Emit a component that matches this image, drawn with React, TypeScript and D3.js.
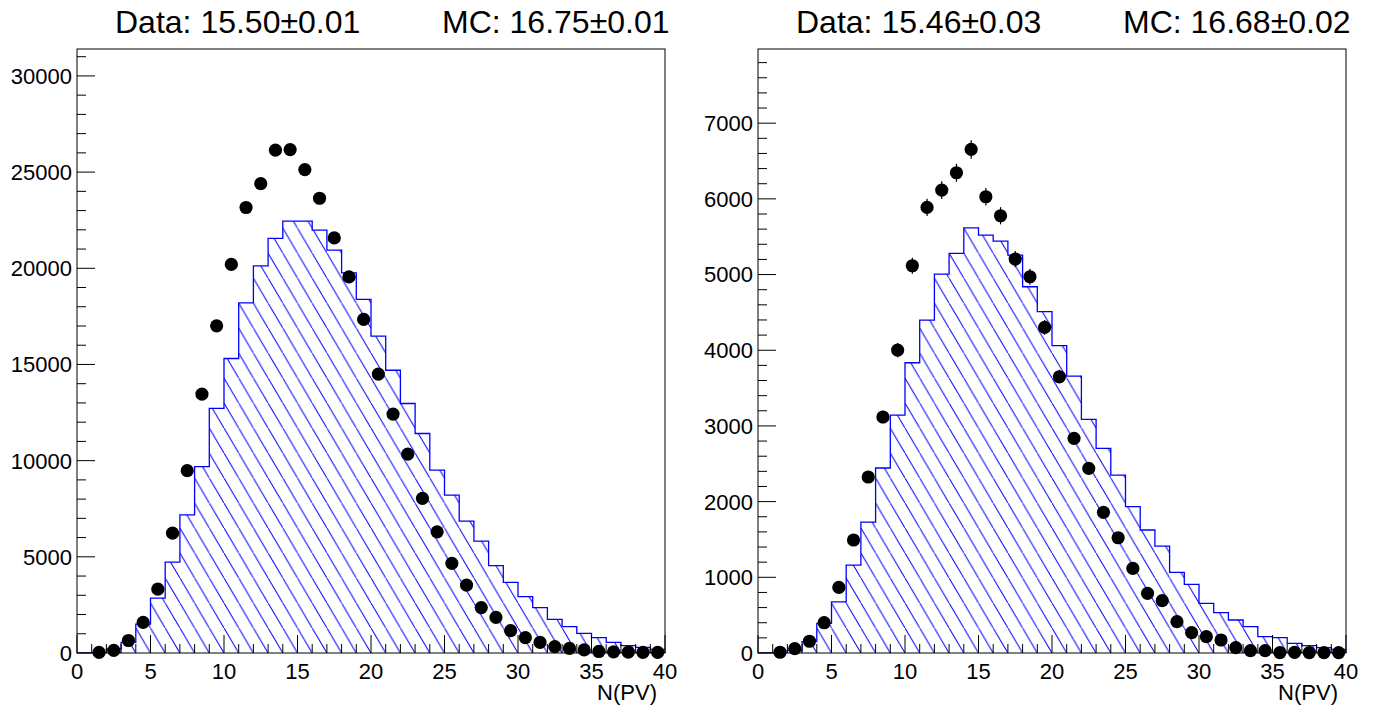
import React from "react";
import * as d3 from "d3";

// ---------- data ----------
const binEdges = d3.range(0, 41); // 0..40, width 1
const dataCenters = d3.range(1.5, 40, 1); // 1.5 .. 39.5

const leftMC = [
  0, 0, 208, 554, 1505, 2855, 4723, 7180, 9690, 12716,
  15310, 18200, 20130, 21560, 22450, 22450, 21980, 20940, 19760, 18380,
  16470, 14700, 12970, 11410, 9510, 8210, 6860, 5820, 4540, 3670,
  2930, 2360, 1750, 1370, 1020, 800, 550, 380, 295, 190,
];
const leftData = [
  30, 140, 650, 1590, 3320, 6230, 9480, 13460, 17010, 20200,
  23160, 24400, 26140, 26170, 25130, 23640, 21580, 19550, 17340, 14500,
  12420, 10340, 8040, 6300, 4660, 3530, 2360, 1850, 1160, 800,
  550, 330, 240, 160, 80, 60, 45, 35, 30,
];
const leftErr = [
  8, 18, 38, 60, 86, 118, 146, 174, 195, 213,
  228, 234, 242, 242, 237, 230, 220, 209, 197, 180,
  167, 152, 134, 119, 102, 89, 73, 64, 51, 42,
  35, 27, 23, 19, 13, 11, 10, 9, 8,
];

const rightMC = [
  0, 0, 36, 151, 391, 675, 1162, 1730, 2444, 3144,
  3835, 4399, 5006, 5279, 5618, 5521, 5442, 5257, 4839, 4509,
  4060, 3659, 3087, 2703, 2351, 1933, 1625, 1413, 1066, 907,
  656, 533, 436, 348, 216, 203, 128, 97, 70, 48,
];
const rightData = [
  10, 58, 155, 400, 866, 1493, 2325, 3118, 4002, 5116,
  5887, 6116, 6345, 6653, 6028, 5777, 5204, 4971, 4302, 3650,
  2836, 2439, 1858, 1523, 1118, 788, 691, 414, 269, 216,
  172, 70, 31, 31, 5, 9, 5, 5, 5,
];
const rightErr = [
  5, 11, 19, 30, 44, 58, 72, 84, 95, 107,
  115, 117, 119, 122, 116, 114, 108, 106, 98, 91,
  80, 74, 65, 59, 50, 42, 39, 31, 25, 22,
  20, 13, 8, 8, 3, 5, 3, 3, 3,
];

const xMajorTicks = [0, 5, 10, 15, 20, 25, 30, 35, 40];
const leftYMajor = [0, 5000, 10000, 15000, 20000, 25000, 30000];
const rightYMajor = [0, 1000, 2000, 3000, 4000, 5000, 6000, 7000];

const leftTitles = ["Data: 15.50\u00b10.01", "MC: 16.75\u00b10.01"];
const rightTitles = ["Data: 15.46\u00b10.03", "MC: 16.68\u00b10.02"];
const xTitle = "N(PV)";

// ---------- layout ----------
const W = 1389;
const H = 709;
const FRAME_L = 77;
const FRAME_R = 665;
const FRAME_T = 49;
const FRAME_B = 653;
const PANEL_DX = 681;
const FONT = "'Liberation Sans', Arial, Helvetica, sans-serif";
const TITLE_SIZE = 32;
const LABEL_SIZE = 22;

type PanelProps = {
  id: string;
  ox: number;
  mc: number[];
  data: number[];
  err: number[];
  ymax: number;
  yMajor: number[];
  yMinorStep: number;
  titles: string[];
};

function Panel({ id, ox, mc, data, err, ymax, yMajor, yMinorStep, titles }: PanelProps) {
  const x = d3.scaleLinear().domain([0, 40]).range([ox + FRAME_L, ox + FRAME_R]);
  const y = d3.scaleLinear().domain([0, ymax]).range([FRAME_B, FRAME_T]);

  const pts: [number, number][] = binEdges.map((e, i) => [e, i < mc.length ? mc[i] : mc[mc.length - 1]]);
  const area = d3
    .area<[number, number]>()
    .x((d) => x(d[0]))
    .y0(y(0))
    .y1((d) => y(d[1]))
    .curve(d3.curveStepAfter);
  const line = d3
    .line<[number, number]>()
    .x((d) => x(d[0]))
    .y((d) => y(d[1]))
    .curve(d3.curveStepAfter);

  const yMinor = d3.range(0, ymax, yMinorStep).filter((v) => !yMajor.includes(v));
  const xMinor = d3.range(0, 41, 1).filter((v) => !xMajorTicks.includes(v));

  const hatchW = x(1) - x(0);
  const hatchH = hatchW * 1.7;

  return (
    <g>
      <defs>
        <pattern
          id={`hatch-${id}`}
          patternUnits="userSpaceOnUse"
          width={hatchW}
          height={hatchH}
          x={x(0)}
          y={y(0)}
        >
          <line
            x1={-hatchW * 0.2}
            y1={-hatchH * 0.2}
            x2={hatchW * 1.2}
            y2={hatchH * 1.2}
            stroke="#0000ff"
            strokeWidth={1}
          />
        </pattern>
        <clipPath id={`clip-${id}`}>
          <rect x={x(0)} y={FRAME_T} width={x(40) - x(0)} height={FRAME_B - FRAME_T} />
        </clipPath>
      </defs>

      {/* titles */}
      <text x={ox + 115} y={33} fontFamily={FONT} fontSize={TITLE_SIZE} fill="#000">
        {titles[0]}
      </text>
      <text x={ox + 442} y={33} fontFamily={FONT} fontSize={TITLE_SIZE} fill="#000">
        {titles[1]}
      </text>

      {/* MC histogram */}
      <g clipPath={`url(#clip-${id})`}>
        <path d={area(pts) || ""} fill={`url(#hatch-${id})`} stroke="none" />
        <path d={line(pts) || ""} fill="none" stroke="#0000ff" strokeWidth={1.3} />
      </g>

      {/* data points */}
      <g>
        {data.map((v, i) => (
          <g key={i}>
            <line
              x1={x(dataCenters[i])}
              x2={x(dataCenters[i])}
              y1={y(v - err[i])}
              y2={y(v + err[i])}
              stroke="#000"
              strokeWidth={1.2}
            />
            <circle cx={x(dataCenters[i])} cy={y(v)} r={6.6} fill="#000" />
          </g>
        ))}
      </g>

      {/* frame */}
      <rect
        x={x(0)}
        y={FRAME_T}
        width={x(40) - x(0)}
        height={FRAME_B - FRAME_T}
        fill="none"
        stroke="#000"
        strokeWidth={1}
      />

      {/* x axis ticks */}
      {xMajorTicks.map((t) => (
        <line key={`xM${t}`} x1={x(t)} x2={x(t)} y1={FRAME_B} y2={FRAME_B - 18} stroke="#000" strokeWidth={1} />
      ))}
      {xMinor.map((t) => (
        <line key={`xm${t}`} x1={x(t)} x2={x(t)} y1={FRAME_B} y2={FRAME_B - 9} stroke="#000" strokeWidth={1} />
      ))}
      {xMajorTicks.map((t) => (
        <text
          key={`xl${t}`}
          x={x(t)}
          y={679}
          textAnchor="middle"
          fontFamily={FONT}
          fontSize={LABEL_SIZE}
          fill="#000"
        >
          {t}
        </text>
      ))}
      <text x={x(40) - 8} y={700} textAnchor="end" fontFamily={FONT} fontSize={LABEL_SIZE} fill="#000">
        {xTitle}
      </text>

      {/* y axis ticks */}
      {yMajor.map((t) => (
        <line key={`yM${t}`} x1={x(0)} x2={x(0) + 18} y1={y(t)} y2={y(t)} stroke="#000" strokeWidth={1} />
      ))}
      {yMinor.map((t) => (
        <line key={`ym${t}`} x1={x(0)} x2={x(0) + 9} y1={y(t)} y2={y(t)} stroke="#000" strokeWidth={1} />
      ))}
      {yMajor.map((t) => (
        <text
          key={`yl${t}`}
          x={x(0) - 5}
          y={y(t)}
          dy="0.36em"
          textAnchor="end"
          fontFamily={FONT}
          fontSize={LABEL_SIZE}
          fill="#000"
        >
          {t}
        </text>
      ))}
    </g>
  );
}

export default function App() {
  return (
    <svg
      width={W}
      height={H}
      viewBox={`0 0 ${W} ${H}`}
      style={{ position: "fixed", left: 0, top: 0, display: "block", background: "#fff" }}
    >
      <rect x={0} y={0} width={W} height={H} fill="#fff" />
      <Panel
        id="L"
        ox={0}
        mc={leftMC}
        data={leftData}
        err={leftErr}
        ymax={31400}
        yMajor={leftYMajor}
        yMinorStep={1000}
        titles={leftTitles}
      />
      <Panel
        id="R"
        ox={PANEL_DX}
        mc={rightMC}
        data={rightData}
        err={rightErr}
        ymax={7980}
        yMajor={rightYMajor}
        yMinorStep={200}
        titles={rightTitles}
      />
    </svg>
  );
}
